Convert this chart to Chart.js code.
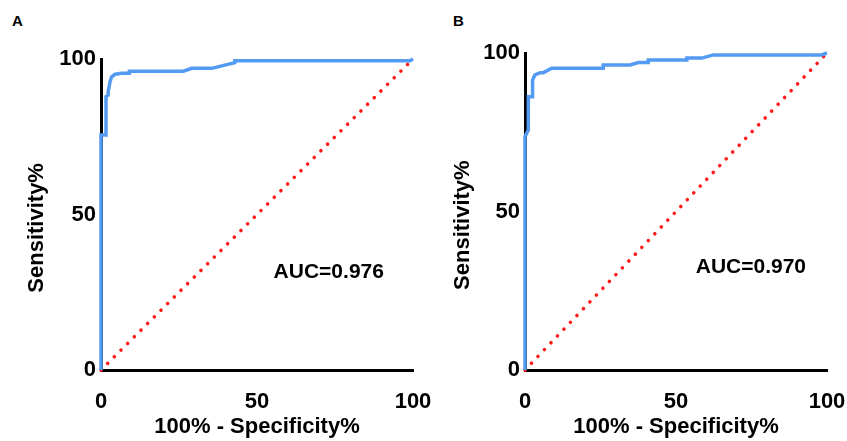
<!DOCTYPE html>
<html><head><meta charset="utf-8">
<script src="https://cdn.jsdelivr.net/npm/chart.js@4.4.1/dist/chart.umd.min.js"></script>
<style>
html,body{margin:0;padding:0;background:#fff;}
body{width:847px;height:441px;position:relative;overflow:hidden;}
canvas{position:absolute;top:0;}
.lbl{position:absolute;font:bold 15px 'Liberation Sans',Arial,sans-serif;color:#000;line-height:17px;}
</style></head><body>
<div class="lbl" style="left:12px;top:12px">A</div>
<div class="lbl" style="left:453px;top:12px">B</div>
<canvas id="cA" width="440" height="441" style="left:0"></canvas>
<canvas id="cB" width="427" height="441" style="left:420px"></canvas>
<script>
// ---- data ----
const xTicks = [0, 50, 100];
const yTicks = [0, 50, 100];
const fprA  = [0, 0,    1.6,  1.6,  2.3,  2.3,  2.9,  3.4,  4.5,  6.6,  9.1,  9.1,  26.4, 29.1, 35.5, 42.9, 42.9, 99,   100];
const sensA = [0, 75.6, 75.6, 87.9, 88.4, 89.5, 92.7, 94.3, 95.1, 95.4, 95.4, 96.1, 96.1, 97.0, 97.0, 98.8, 99.4, 99.4, 100];
const fprB  = [0, 0,    1.1,  1.1,  2.5,  2.5,  3.3,  5.0,  6.1,  8.8,  25.9, 25.9, 34.8, 37.5, 40.8, 40.8, 53.6, 53.6, 58.5, 62.4, 98.2, 100];
const sensB = [0, 73.6, 75.7, 86.2, 86.2, 91.5, 93.1, 93.8, 93.8, 95.2, 95.2, 96.2, 96.2, 97.0, 97.0, 97.8, 97.8, 98.4, 98.4, 99.4, 99.4, 100];
const chanceX = [0, 100];
const chanceY = [0, 100];
const aucTextA = 'AUC=0.976';
const aucTextB = 'AUC=0.970';
const xTitle = '100% - Specificity%';
const yTitle = 'Sensitivity%';

// ---- style ----
const FONT = "'Liberation Sans', Arial, sans-serif";
Chart.defaults.font.family = FONT;
Chart.defaults.color = '#000';
const BLUE = 'rgb(83,155,242)';
const RED = '#ff1a1a';

function makeChart(id, fpr, sens, aucText, aucAt, area) {
  const pts = fpr.map((x, i) => ({x: x, y: sens[i]}));
  const diag = chanceX.map((x, i) => ({x: x, y: chanceY[i]}));
  const extra = {
    id: 'extra' + id,
    afterDraw(chart) {
      const ctx = chart.ctx, xs = chart.scales.x, ys = chart.scales.y;
      ctx.save();
      ctx.fillStyle = '#000';
      ctx.font = 'bold 21px ' + FONT;
      ctx.textAlign = 'center';
      ctx.textBaseline = 'middle';
      ctx.fillText(aucText, xs.getPixelForValue(aucAt[0]), ys.getPixelForValue(aucAt[1]));
      ctx.font = 'bold 22px ' + FONT;
      ctx.translate(chart.chartArea.left - area.titleOff, ys.getPixelForValue(45.7));
      ctx.rotate(-Math.PI / 2);
      ctx.fillText(yTitle, 0, 0);
      ctx.restore();
    }
  };
  return new Chart(document.getElementById(id), {
    type: 'scatter',
    data: {datasets: [
      {data: pts, showLine: true, borderColor: BLUE, borderWidth: 3.5, pointRadius: 0, tension: 0, fill: false, clip: false},
      {data: diag, showLine: true, borderColor: RED, borderWidth: 3.6, borderDash: [0.01, 9.4], borderCapStyle: 'round', pointRadius: 0, clip: false}
    ]},
    options: {
      responsive: false, animation: false, devicePixelRatio: 1,
      layout: {padding: {left: 0, top: area.top, right: area.right, bottom: 0}},
      plugins: {legend: {display: false}, tooltip: {enabled: false}},
      scales: {
        x: {
          type: 'linear', min: 0, max: 100,
          afterBuildTicks(s) { s.ticks = xTicks.map(v => ({value: v})); },
          ticks: {padding: 19, color: '#000', font: {size: 22, weight: 'bold'}, maxRotation: 0},
          grid: {display: false, drawTicks: false},
          border: {display: true, color: '#000', width: 3},
          title: {display: true, text: xTitle, color: '#000', font: {size: 22, weight: 'bold'}, padding: {top: 0, bottom: 1}},
          afterFit(s) { s.height = 71; s.paddingLeft = 0; s.paddingRight = 0; }
        },
        y: {
          type: 'linear', min: 0, max: 100,
          afterBuildTicks(s) { s.ticks = yTicks.map(v => ({value: v})); },
          ticks: {padding: 5, color: '#000', font: {size: 22, weight: 'bold'}},
          grid: {display: false, drawTicks: false},
          border: {display: true, color: '#000', width: 3},
          afterFit(s) { s.width = area.left; s.paddingTop = 0; s.paddingBottom = 0; }
        }
      }
    },
    plugins: [extra]
  });
}

makeChart('cA', fprA, sensA, aucTextA, [73, 31.3], {left: 101, top: 59, right: 27, titleOff: 64});
makeChart('cB', fprB, sensB, aucTextB, [74.8, 32.3], {left: 105, top: 53, right: 20, titleOff: 62});
</script>
</body></html>
